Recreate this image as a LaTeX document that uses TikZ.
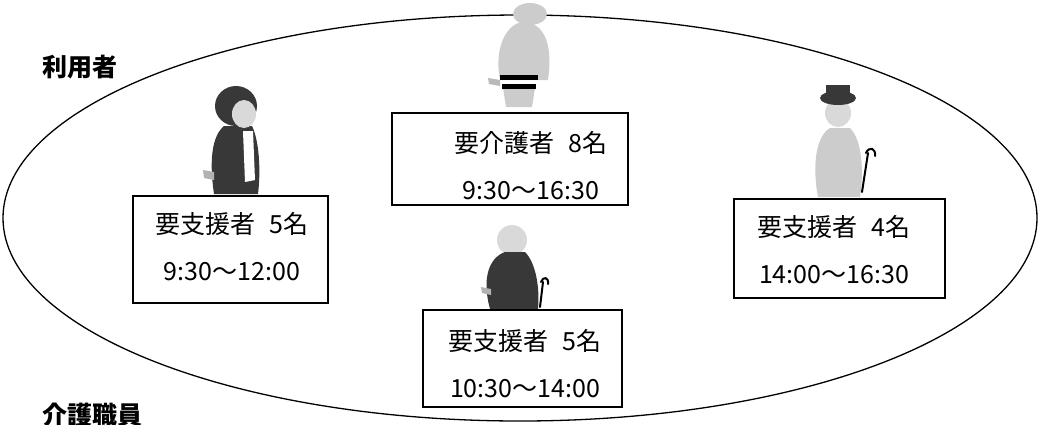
\documentclass[tikz,border=0pt]{standalone}
\usepackage{fontspec}
\newfontfamily\jp{Noto Sans CJK JP}
\usetikzlibrary{shapes.geometric}
\newcommand\gapcount{\hspace{14pt}}
\begin{document}
\begin{tikzpicture}[x=1pt,y=-1pt,
  every node/.style={inner sep=0pt},
  txt/.style={font=\jp\fontsize{25}{47}\selectfont, align=center},
  lbl/.style={font=\jp\bfseries\fontsize{25}{30}\selectfont, anchor=west},
  slot/.style={draw, rectangle, line width=1.6pt, fill=white},
  dark/.style={fill=black!78},
  light/.style={fill=gray!40},
  cane/.style={line width=2pt, line cap=round}
]
\useasboundingbox (0,0) rectangle (1041,424);
\clip (0,0) rectangle (1041,424);

% outer group
\node[draw, ellipse, line width=1.3pt, minimum width=1034pt, minimum height=406pt] (group) at (520,218) {};

% labels
\node[lbl] (users) at (42,67) {利用者};
\node[lbl] (staff) at (42,415) {介護職員};

% person above the left box
\path[dark] (214,194) .. controls (209,160) and (212,136) .. (224,126) -- (252,126) .. controls (259,140) and (261,170) .. (258,194) -- cycle;
\path[fill=white] (243,131) -- (253,131) -- (255,180) -- (245,182) -- cycle;
\path[dark] (236,106) ellipse [x radius=21pt, y radius=20pt];
\path[fill=gray!30] (244,114) ellipse [x radius=12pt, y radius=14pt];
\path[fill=gray!60] (203,170) -- (214,172) -- (214,180) -- (204,178) -- cycle;

% seated person at the top
\path[light] (530,14) ellipse [x radius=17pt, y radius=11pt];
\path[light] (500,80) .. controls (494,50) and (505,25) .. (522,22) .. controls (545,22) and (553,45) .. (548,80) -- cycle;
\path[light] (503,88) -- (535,88) -- (532,107) -- (506,107) -- cycle;
\path[fill=black] (500,75) rectangle (538,80);
\path[fill=black] (502,84) rectangle (536,89);
\path[fill=gray!55] (488,78) -- (500,80) -- (500,86) -- (489,84) -- cycle;

% person with a cane above the bottom box
\path[fill=gray!30] (512,240) ellipse [x radius=15pt, y radius=15pt];
\path[dark] (490,309) .. controls (482,280) and (488,258) .. (505,252) -- (525,252) .. controls (535,262) and (540,285) .. (538,309) -- cycle;
\path[fill=gray!60] (481,287) -- (491,289) -- (491,295) -- (482,293) -- cycle;
\draw[cane] (541,282) .. controls (543,276) and (549,277) .. (548,284);
\draw[cane] (543,282) -- (540,307);

% person with hat and cane on the right
\path[light] (818,197) .. controls (812,165) and (816,136) .. (830,128) -- (850,128) .. controls (862,140) and (864,170) .. (860,197) -- cycle;
\path[fill=gray!30] (838,113) ellipse [x radius=13pt, y radius=14pt];
\path[dark] (838,98) ellipse [x radius=18pt, y radius=7pt];
\path[dark] (826,85) rectangle (850,98);
\draw[cane] (866,153) .. controls (869,146) and (876,148) .. (875,156);
\draw[cane] (868,153) -- (862,192);

% boxes
\node[slot, minimum width=195pt, minimum height=107pt] (b1) at (230.5,249.5) {};
\node[slot, minimum width=236pt, minimum height=92pt] (b2) at (510,159) {};
\node[slot, minimum width=199pt, minimum height=97pt] (b3) at (522.5,358.5) {};
\node[slot, minimum width=211pt, minimum height=99pt] (b4) at (839.5,248.5) {};

\node[txt] (t1) at (232,247) {要支援者\gapcount 5名\\9:30～12:00};
\node[txt] (t2) at (531,165.5) {要介護者\gapcount 8名\\9:30～16:30};
\node[txt] (t3) at (525,363.5) {要支援者\gapcount 5名\\10:30～14:00};
\node[txt] (t4) at (834,250) {要支援者\gapcount 4名\\14:00～16:30};
\end{tikzpicture}
\end{document}
